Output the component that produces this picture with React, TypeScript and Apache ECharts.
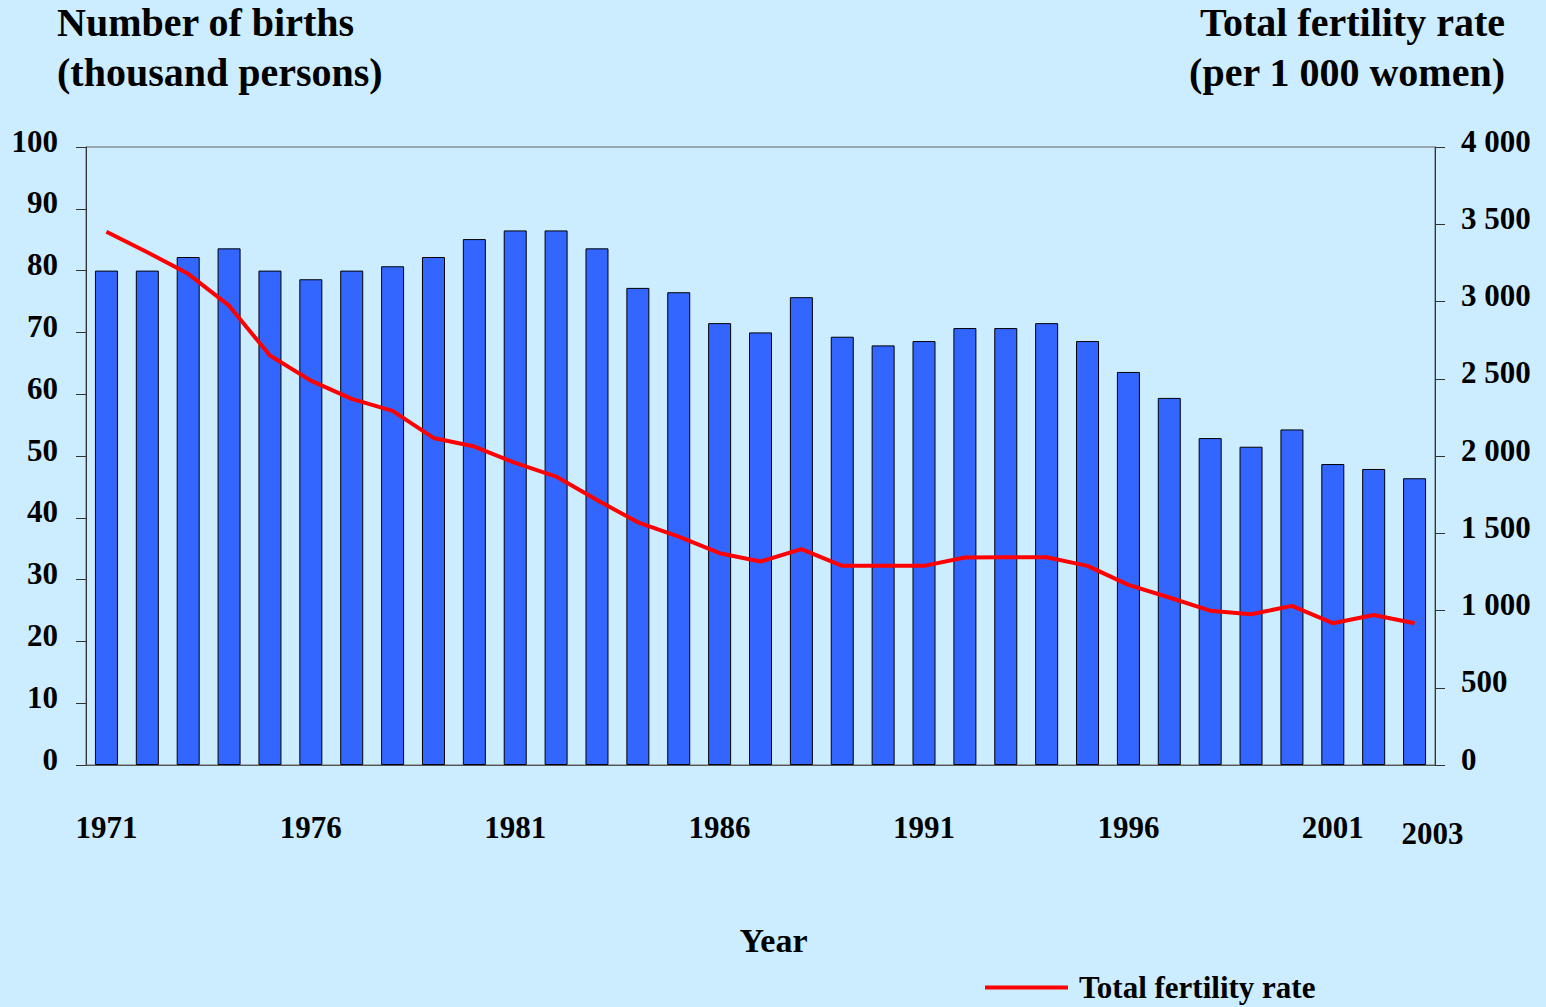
import React, { useEffect, useRef } from "react";
import * as echarts from "echarts";

const years = [
  "1971", "1972", "1973", "1974", "1975", "1976", "1977", "1978", "1979", "1980",
  "1981", "1982", "1983", "1984", "1985", "1986", "1987", "1988", "1989", "1990",
  "1991", "1992", "1993", "1994", "1995", "1996", "1997", "1998", "1999", "2000",
  "2001", "2002", "2003",
];

// Number of births (thousand persons)
const births = [
  80.0, 80.0, 82.2, 83.6, 80.0, 78.6, 80.0, 80.7, 82.2, 85.1,
  86.5, 86.5, 83.6, 77.2, 76.5, 71.5, 70.0, 75.7, 69.3, 67.9,
  68.6, 70.7, 70.7, 71.5, 68.6, 63.6, 59.4, 52.9, 51.5, 54.3,
  48.7, 47.9, 46.4,
];

// Total fertility rate (per 1 000 women)
const tfr = [
  3452, 3319, 3179, 2973, 2650, 2488, 2370, 2292, 2117, 2061,
  1955, 1867, 1715, 1571, 1478, 1371, 1317, 1397, 1289, 1289,
  1289, 1343, 1345, 1345, 1289, 1166, 1084, 999, 976, 1030,
  918, 971, 918,
];

const leftTitle = "Number of births\n(thousand persons)";
const rightTitle = "Total fertility rate\n(per 1 000 women)";
const xName = "Year";
const lineName = "Total fertility rate";

const FONT = "'Liberation Serif', 'Times New Roman', serif";
const BG = "#CCECFF";

export default function App() {
  const ref = useRef<HTMLDivElement>(null);

  useEffect(() => {
    if (!ref.current) return;
    const chart = echarts.init(ref.current, null, { renderer: "svg" });
    const labelStyle = {
      fontFamily: FONT,
      fontWeight: "bold" as const,
      fontSize: 31,
      color: "#000",
    };
    const fmtRight = (v: number) =>
      v >= 1000 ? Math.floor(v / 1000) + " " + String(v % 1000).padStart(3, "0") : String(v);
    chart.setOption({
      animation: false,
      backgroundColor: BG,
      textStyle: { fontFamily: FONT },
      title: [
        {
          text: leftTitle,
          left: 57,
          top: -3,
          padding: 0,
          textStyle: { ...labelStyle, fontSize: 40, lineHeight: 50 },
        },
        {
          text: rightTitle,
          left: 1505,
          top: -3,
          padding: 0,
          textAlign: "right",
          textStyle: { ...labelStyle, fontSize: 40, lineHeight: 50 },
        },
      ],
      legend: {
        data: [lineName],
        left: 985,
        top: 972,
        padding: 0,
        icon: "rect",
        itemWidth: 83,
        itemHeight: 4,
        textStyle: { ...labelStyle, fontSize: 31, padding: [0, 0, 0, 6] },
      },
      grid: {
        left: 86,
        right: 111,
        top: 147,
        bottom: 242,
        show: true,
        borderColor: "#666",
        borderWidth: 1,
        backgroundColor: "transparent",
      },
      xAxis: {
        type: "category",
        data: years,
        name: xName,
        nameLocation: "middle",
        nameGap: 158,
        nameTextStyle: { ...labelStyle, fontSize: 34, padding: [0, 0, 0, 26] },
        axisLine: { show: true, lineStyle: { color: "#555", width: 1 } },
        axisTick: { show: false },
        splitLine: { show: false },
        axisLabel: {
          ...labelStyle,
          margin: 47,
          interval: (i: number) => i % 5 === 0 || i === years.length - 1,
          formatter: (v: string, i: number) =>
            i === years.length - 1 ? "{s|" + v + "}" : v,
          rich: {
            s: { ...labelStyle, padding: [6, 0, 0, 36] },
          },
        },
      },
      yAxis: [
        {
          type: "value",
          min: 0,
          max: 100,
          interval: 10,
          position: "left",
          axisLine: { show: true, lineStyle: { color: "#333", width: 1 } },
          axisTick: { show: true, length: 10, inside: false, lineStyle: { color: "#333" } },
          splitLine: { show: false },
          axisLabel: {
            ...labelStyle,
            margin: 28,
            formatter: (v: number) => "{a|" + v + "}",
            rich: { a: { ...labelStyle, padding: [0, 0, 12, 0] } },
          },
        },
        {
          type: "value",
          min: 0,
          max: 4000,
          interval: 500,
          position: "right",
          axisLine: { show: true, lineStyle: { color: "#333", width: 1 } },
          axisTick: { show: true, length: 10, inside: false, lineStyle: { color: "#333" } },
          splitLine: { show: false },
          axisLabel: {
            ...labelStyle,
            margin: 26,
            formatter: (v: number) => "{a|" + fmtRight(v) + "}",
            rich: { a: { ...labelStyle, padding: [0, 0, 12, 0] } },
          },
        },
      ],
      series: [
        {
          name: "Number of births",
          type: "bar",
          data: births,
          yAxisIndex: 0,
          barWidth: 23,
          itemStyle: { color: "#3366FF", borderColor: "#000", borderWidth: 1 },
        },
        {
          name: lineName,
          type: "line",
          data: tfr,
          yAxisIndex: 1,
          symbol: "none",
          smooth: false,
          lineStyle: { color: "#FF0000", width: 4 },
          itemStyle: { color: "#FF0000" },
        },
      ],
    });
    return () => chart.dispose();
  }, []);

  return (
    <div
      ref={ref}
      style={{ position: "fixed", left: 0, top: 0, width: 1546, height: 1007, background: BG }}
    />
  );
}
